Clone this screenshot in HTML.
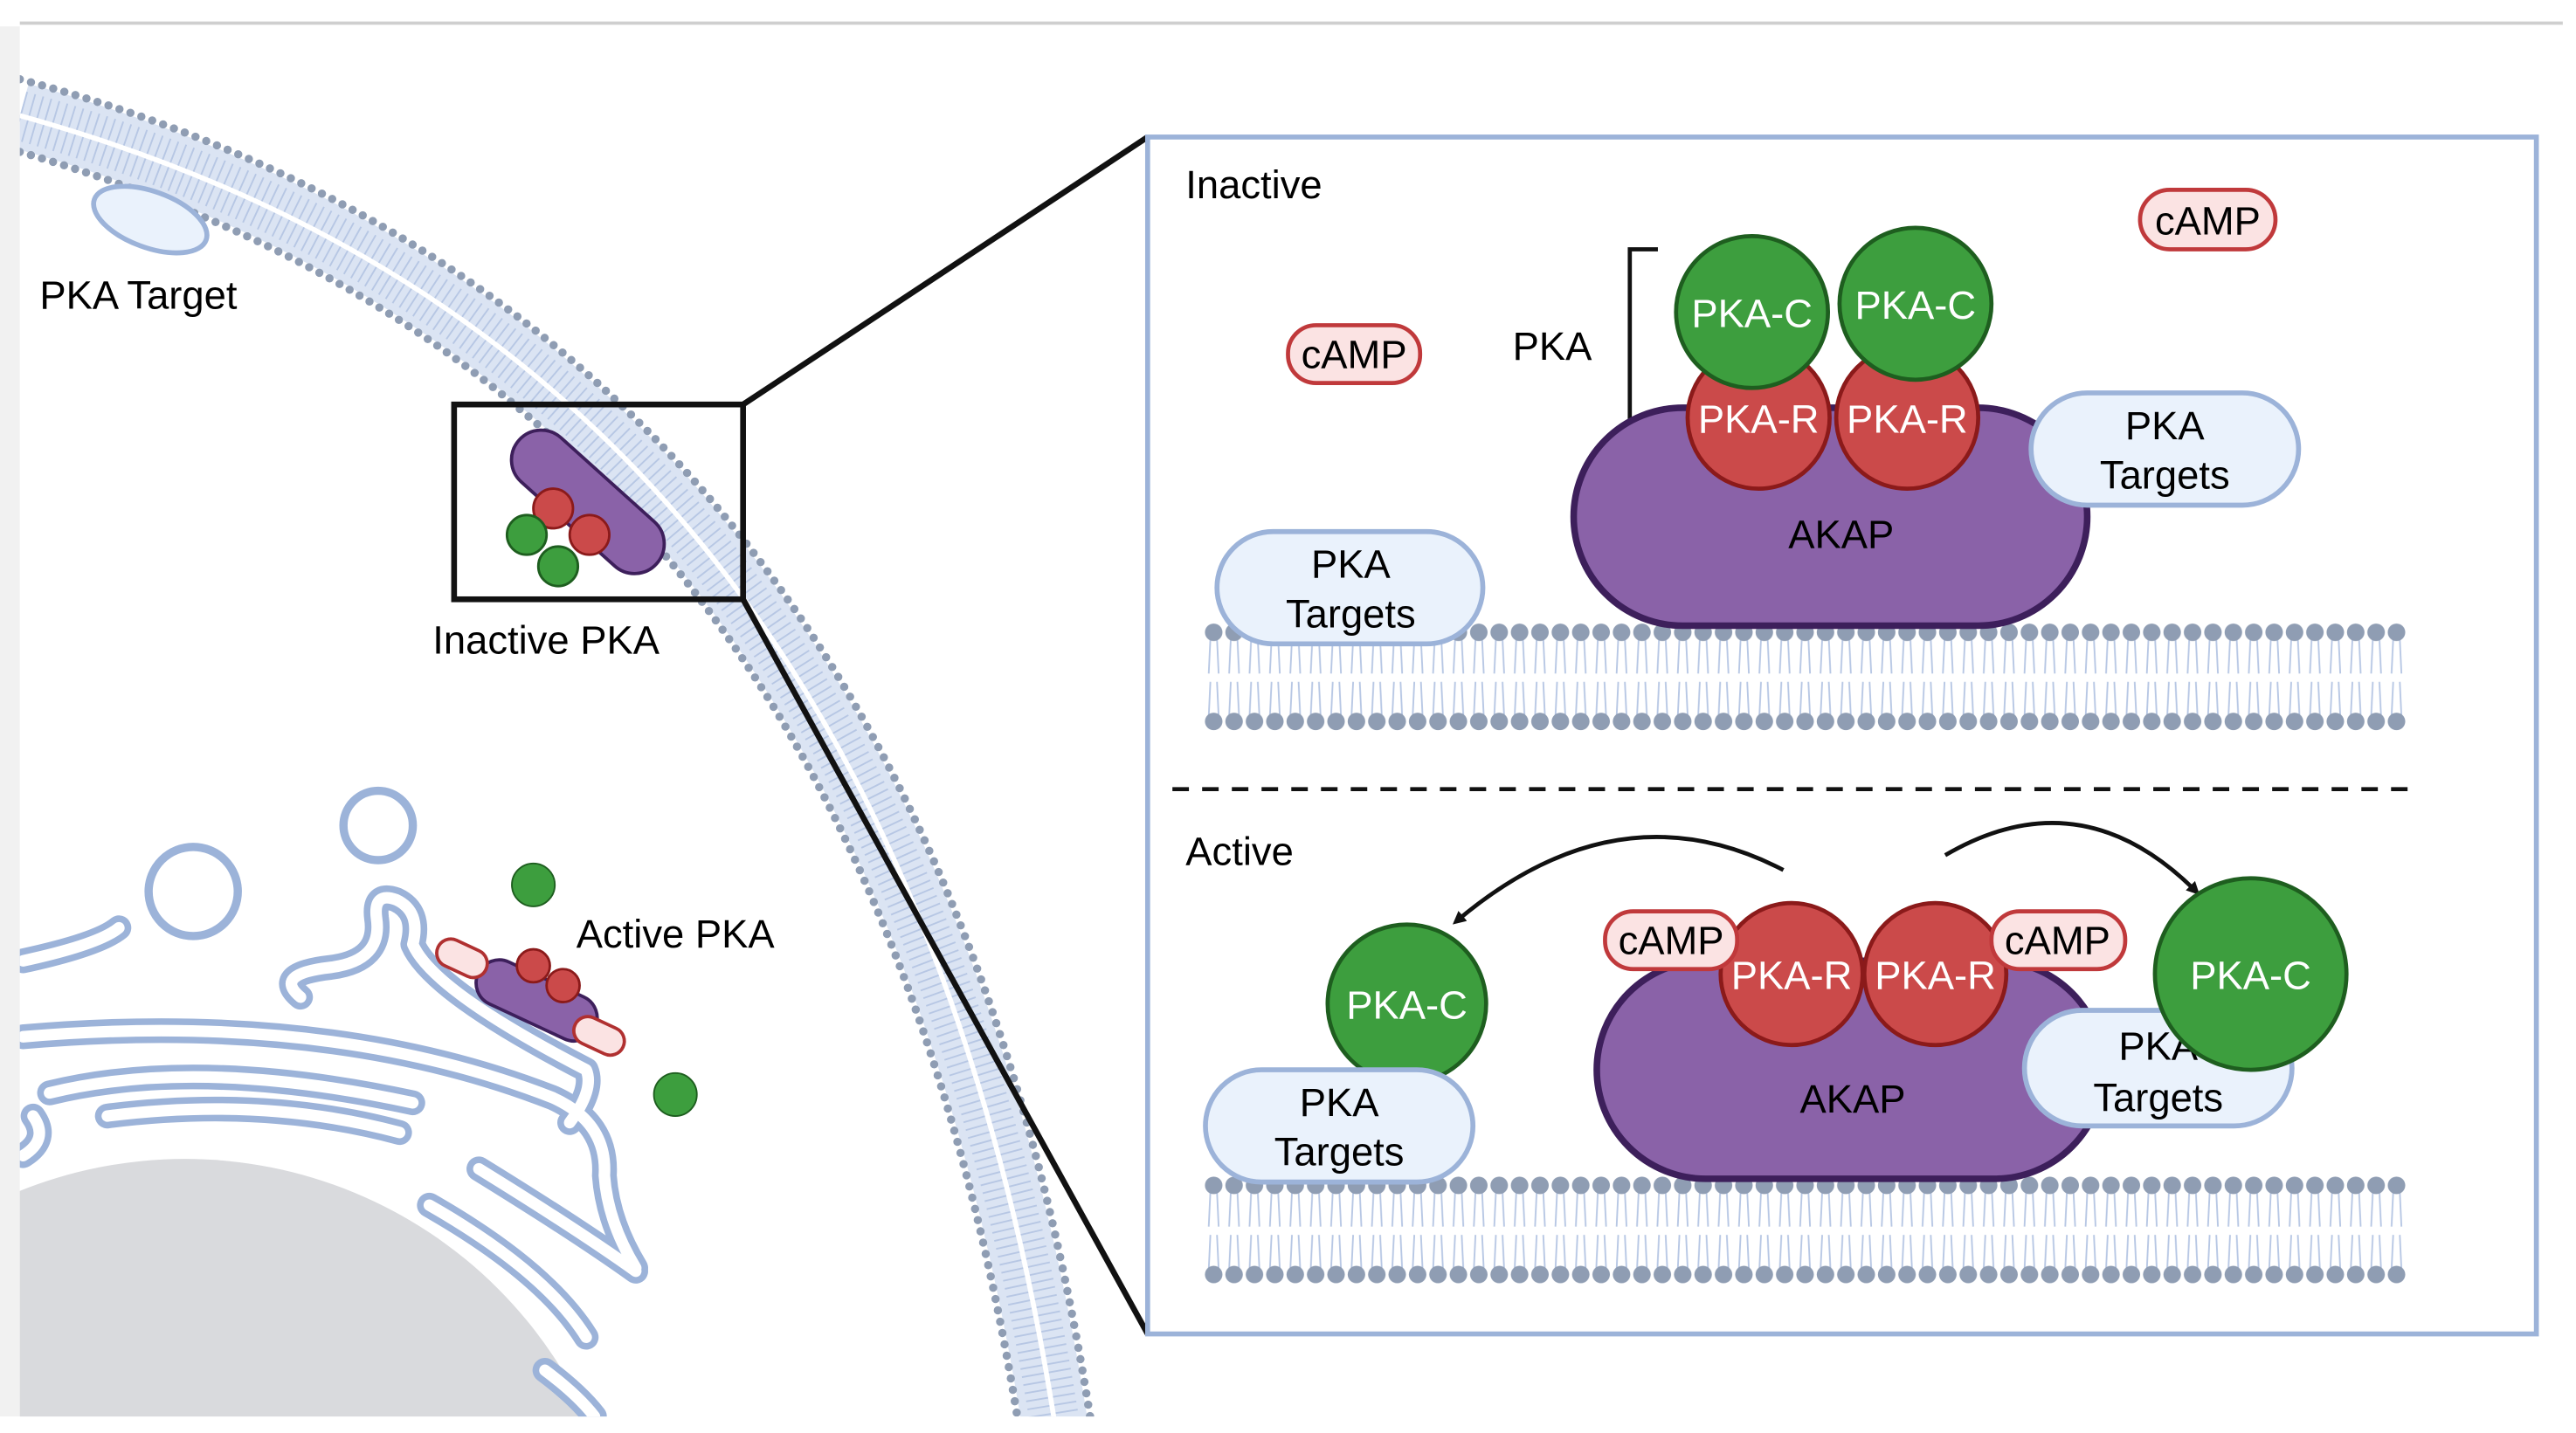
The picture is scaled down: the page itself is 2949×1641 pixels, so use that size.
<!DOCTYPE html>
<html><head><meta charset="utf-8"><style>
html,body{margin:0;padding:0;background:#fff;width:2949px;height:1641px;overflow:hidden;}
svg{display:block;overflow:hidden;}
text{font-family:"Liberation Sans",sans-serif;}
</style></head><body>
<svg width="2949" height="1641" viewBox="0 0 1560 868" preserveAspectRatio="none" xmlns="http://www.w3.org/2000/svg">
<defs>
<pattern id="lip" patternUnits="userSpaceOnUse" x="729" y="377" width="12.35" height="66">
<g stroke="#b7c7e4" stroke-width="1" fill="none">
<path d="M4 10 L3 31 M8 10 L9 31 M4 36 L3 57 M8 36 L9 57"/></g>
<circle cx="6" cy="6" r="5.3" fill="#8f9db3"/>
<circle cx="6" cy="60" r="5.3" fill="#8f9db3"/>
</pattern>
<pattern id="lip2" patternUnits="userSpaceOnUse" x="729" y="712" width="12.35" height="66">
<g stroke="#b7c7e4" stroke-width="1" fill="none">
<path d="M4 10 L3 31 M8 10 L9 31 M4 36 L3 57 M8 36 L9 57"/></g>
<circle cx="6" cy="6" r="5.3" fill="#8f9db3"/>
<circle cx="6" cy="60" r="5.3" fill="#8f9db3"/>
</pattern>
<clipPath id="pg"><rect x="12" y="16" width="1540" height="842"/></clipPath>
<marker id="ah" markerWidth="8" markerHeight="8" refX="5" refY="4" orient="auto" markerUnits="userSpaceOnUse">
<path d="M0 0 L8 4 L0 8 Z" fill="#111"/></marker>
</defs>
<rect x="0" y="0" width="1560" height="868" fill="#fff"/>
<rect x="0" y="16" width="12" height="842" fill="#f1f1f1"/>
<line x1="12" y1="14" x2="1552" y2="14" stroke="#cfcfcf" stroke-width="2"/>

<g clip-path="url(#pg)">
<circle cx="112" cy="970" r="268" fill="#d9dadd"/>
<path d="M 12 70 C 300 150, 560 350, 640 870" stroke="#dbe4f3" stroke-width="40" fill="none"/>
<path d="M 12 70 C 300 150, 560 350, 640 870" stroke="#b7c7e4" stroke-width="30" stroke-dasharray="1 4" fill="none"/>
<path d="M 12 70 C 300 150, 560 350, 640 870" stroke="#fff" stroke-width="3" fill="none"/>
<path d="M 12 48 C 312 128, 582 340, 662 870" stroke="#8f9db3" stroke-width="5" stroke-dasharray="0 7" stroke-linecap="round" fill="none"/>
<path d="M 12 92 C 288 172, 538 360, 618 870" stroke="#8f9db3" stroke-width="5" stroke-dasharray="0 7" stroke-linecap="round" fill="none"/>
<g fill="none" stroke-linecap="round" stroke-linejoin="round">
<g stroke="#9cb3d9" stroke-width="15">
<path d="M 14 582 Q 60 572 72 562"/>
<path d="M 14 628 Q 200 612 335 665 Q 368 680 366 712 Q 368 740 385 768"/>
<path d="M 65 676 Q 160 664 242 686"/>
<path d="M 14 700 Q 30 690 20 676"/>
<path d="M 290 708 Q 350 745 385 770"/>
<path d="M 182 604 Q 165 590 200 586 Q 232 582 228 556 Q 226 540 240 545 Q 255 552 250 572 Q 262 600 355 648 Q 360 660 345 680"/>
<path d="M 30 662 Q 120 640 250 668"/>
<path d="M 260 730 Q 330 770 355 810"/>
<path d="M 330 830 Q 350 845 360 858"/>
</g>
<g stroke="#fff" stroke-width="7">
<path d="M 14 582 Q 60 572 72 562"/>
<path d="M 14 628 Q 200 612 335 665 Q 368 680 366 712 Q 368 740 385 768"/>
<path d="M 65 676 Q 160 664 242 686"/>
<path d="M 14 700 Q 30 690 20 676"/>
<path d="M 290 708 Q 350 745 385 770"/>
<path d="M 182 604 Q 165 590 200 586 Q 232 582 228 556 Q 226 540 240 545 Q 255 552 250 572 Q 262 600 355 648 Q 360 660 345 680"/>
<path d="M 30 662 Q 120 640 250 668"/>
<path d="M 260 730 Q 330 770 355 810"/>
<path d="M 330 830 Q 350 845 360 858"/>
</g>
</g>
<circle cx="229" cy="500" r="21" fill="#fff" stroke="#9cb3d9" stroke-width="5"/>
<circle cx="117" cy="540" r="27" fill="#fff" stroke="#9cb3d9" stroke-width="5"/>
</g>

<ellipse cx="91" cy="133" rx="36" ry="17" transform="rotate(20 91 133)" fill="#eaf2fc" stroke="#9cb3d9" stroke-width="3"/>
<text x="24" y="187" font-size="24">PKA Target</text>

<rect x="275" y="245" width="175" height="118" fill="none" stroke="#111" stroke-width="3.5"/>
<rect x="300" y="286" width="112" height="36" rx="18" transform="rotate(42 356 304)" fill="#8a62a8" stroke="#3d1f5b" stroke-width="2"/>
<circle cx="335" cy="308" r="12" fill="#cb4a4a" stroke="#8b1a1a" stroke-width="1.5"/>
<circle cx="357" cy="324" r="12" fill="#cb4a4a" stroke="#8b1a1a" stroke-width="1.5"/>
<circle cx="319" cy="324" r="12" fill="#3d9e3e" stroke="#1e5e1f" stroke-width="1.5"/>
<circle cx="338" cy="343" r="12" fill="#3d9e3e" stroke="#1e5e1f" stroke-width="1.5"/>
<text x="262" y="396" font-size="24">Inactive PKA</text>
<line x1="450" y1="245" x2="695" y2="83" stroke="#111" stroke-width="3.5"/>
<line x1="450" y1="363" x2="695" y2="808" stroke="#111" stroke-width="3.5"/>

<circle cx="323" cy="536" r="13" fill="#3d9e3e" stroke="#1e5e1f" stroke-width="1"/>
<circle cx="409" cy="663" r="13" fill="#3d9e3e" stroke="#1e5e1f" stroke-width="1"/>
<rect x="286" y="592" width="78" height="28" rx="14" transform="rotate(25 325 606)" fill="#8a62a8" stroke="#3d1f5b" stroke-width="2"/>
<circle cx="323" cy="585" r="10" fill="#cb4a4a" stroke="#8b1a1a" stroke-width="1.5"/>
<circle cx="341" cy="597" r="10" fill="#cb4a4a" stroke="#8b1a1a" stroke-width="1.5"/>
<rect x="264" y="572" width="32" height="17" rx="8.5" transform="rotate(25 280 580)" fill="#fbe3e3" stroke="#b03030" stroke-width="2"/>
<rect x="347" y="619" width="32" height="17" rx="8.5" transform="rotate(25 363 627)" fill="#fbe3e3" stroke="#b03030" stroke-width="2"/>
<text x="349" y="574" font-size="24">Active PKA</text>

<rect x="695" y="83" width="841" height="725" fill="#fff" stroke="#9cb3d9" stroke-width="3"/>
<text x="718" y="120" font-size="24">Inactive</text>
<text x="718" y="524" font-size="24">Active</text>
<line x1="710" y1="478" x2="1460" y2="478" stroke="#111" stroke-width="2.5" stroke-dasharray="10 8"/>

<rect x="729" y="377" width="729" height="66" fill="url(#lip)"/>
<rect x="729" y="712" width="729" height="66" fill="url(#lip2)"/>

<rect x="780" y="197" width="80" height="35" rx="17" fill="#fbe3e3" stroke="#c0393b" stroke-width="2.5"/>
<text x="820" y="223" font-size="24" text-anchor="middle">cAMP</text>
<rect x="1296" y="115" width="82" height="36" rx="18" fill="#fbe3e3" stroke="#c0393b" stroke-width="2.5"/>
<text x="1337" y="142" font-size="24" text-anchor="middle">cAMP</text>
<text x="940" y="218" font-size="24" text-anchor="middle">PKA</text>
<path d="M1004 151 L987 151 L987 278 L1004 278" fill="none" stroke="#111" stroke-width="2.5"/>

<rect x="953" y="247" width="311" height="132" rx="66" fill="#8a62a8" stroke="#3d1f5b" stroke-width="4"/>
<text x="1115" y="332" font-size="24" text-anchor="middle">AKAP</text>
<circle cx="1065" cy="253" r="43" fill="#cb4a4a" stroke="#8b1a1a" stroke-width="2.5"/>
<circle cx="1155" cy="253" r="43" fill="#cb4a4a" stroke="#8b1a1a" stroke-width="2.5"/>
<text x="1065" y="262" font-size="24" fill="#fff" text-anchor="middle">PKA-R</text>
<text x="1155" y="262" font-size="24" fill="#fff" text-anchor="middle">PKA-R</text>
<circle cx="1061" cy="189" r="46" fill="#3d9e3e" stroke="#1e5e1f" stroke-width="2.5"/>
<circle cx="1160" cy="184" r="46" fill="#3d9e3e" stroke="#1e5e1f" stroke-width="2.5"/>
<text x="1061" y="198" font-size="24" fill="#fff" text-anchor="middle">PKA-C</text>
<text x="1160" y="193" font-size="24" fill="#fff" text-anchor="middle">PKA-C</text>

<rect x="737" y="322" width="161" height="68" rx="34" fill="#eaf2fc" stroke="#9cb3d9" stroke-width="3"/>
<text x="818" y="350" font-size="24" text-anchor="middle">PKA</text>
<text x="818" y="380" font-size="24" text-anchor="middle">Targets</text>
<rect x="1230" y="238" width="162" height="68" rx="34" fill="#eaf2fc" stroke="#9cb3d9" stroke-width="3"/>
<text x="1311" y="266" font-size="24" text-anchor="middle">PKA</text>
<text x="1311" y="296" font-size="24" text-anchor="middle">Targets</text>

<path d="M1080 527 Q 980 475 882 558" fill="none" stroke="#111" stroke-width="2.5" marker-end="url(#ah)"/>
<path d="M1178 518 Q 1260 470 1330 540" fill="none" stroke="#111" stroke-width="2.5" marker-end="url(#ah)"/>

<rect x="967" y="582" width="307" height="132" rx="66" fill="#8a62a8" stroke="#3d1f5b" stroke-width="4"/>
<text x="1122" y="674" font-size="24" text-anchor="middle">AKAP</text>
<circle cx="1085" cy="590" r="43" fill="#cb4a4a" stroke="#8b1a1a" stroke-width="2.5"/>
<circle cx="1172" cy="590" r="43" fill="#cb4a4a" stroke="#8b1a1a" stroke-width="2.5"/>
<text x="1085" y="599" font-size="24" fill="#fff" text-anchor="middle">PKA-R</text>
<text x="1172" y="599" font-size="24" fill="#fff" text-anchor="middle">PKA-R</text>
<rect x="972" y="552" width="80" height="35" rx="17" fill="#fbe3e3" stroke="#c0393b" stroke-width="2.5"/>
<text x="1012" y="578" font-size="24" text-anchor="middle">cAMP</text>
<rect x="1206" y="552" width="81" height="35" rx="17" fill="#fbe3e3" stroke="#c0393b" stroke-width="2.5"/>
<text x="1246" y="578" font-size="24" text-anchor="middle">cAMP</text>

<circle cx="852" cy="608" r="48" fill="#3d9e3e" stroke="#1e5e1f" stroke-width="2.5"/>
<text x="852" y="617" font-size="24" fill="#fff" text-anchor="middle">PKA-C</text>
<rect x="730" y="648" width="162" height="68" rx="34" fill="#eaf2fc" stroke="#9cb3d9" stroke-width="3"/>
<text x="811" y="676" font-size="24" text-anchor="middle">PKA</text>
<text x="811" y="706" font-size="24" text-anchor="middle">Targets</text>

<rect x="1226" y="612" width="162" height="70" rx="35" fill="#eaf2fc" stroke="#9cb3d9" stroke-width="3"/>
<text x="1307" y="642" font-size="24" text-anchor="middle">PKA</text>
<text x="1307" y="673" font-size="24" text-anchor="middle">Targets</text>
<circle cx="1363" cy="590" r="58" fill="#3d9e3e" stroke="#1e5e1f" stroke-width="2.5"/>
<text x="1363" y="599" font-size="24" fill="#fff" text-anchor="middle">PKA-C</text>
</svg>
</body></html>
